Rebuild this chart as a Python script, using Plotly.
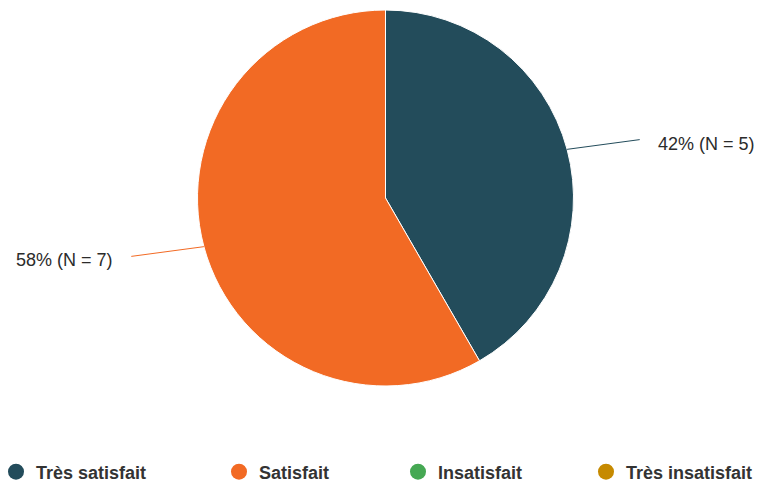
import math
import plotly.graph_objects as go

# ---- data ----
categories = ["Très satisfait", "Satisfait", "Insatisfait", "Très insatisfait"]
counts = [5, 7, 0, 0]
colors = ["#234C5B", "#F26A24", "#45A853", "#C68A00"]

# page body has an 8px margin; figure sized to fill the rest of the 763x484 window
OFF = 8
W, H = 763 - OFF, 484 - OFF
CX, CY, R = 385.5 - OFF, 198 - OFF, 188  # pie centre / radius in figure pixels
total = sum(counts)

fig = go.Figure()
fig.add_trace(go.Pie(
    labels=categories, values=counts, sort=False, direction="clockwise",
    rotation=0, textinfo="none", showlegend=False,
    marker=dict(colors=colors, line=dict(color="white", width=1)),
    domain=dict(x=[(CX - R) / W, (CX + R) / W],
                y=[max(0, (H - (CY + R)) / H), min(1, (H - (CY - R)) / H)]),
    hovertemplate="%{label}: %{value}<extra></extra>",
))

# outside labels with leader lines computed from slice mid-angles
shapes, annotations = [], []
cum = 0
for cat, v, c in zip(categories, counts, colors):
    if v > 0:
        mid = (cum + v / 2) / total * 2 * math.pi
        dx, dy = math.sin(mid), -math.cos(mid)
        x0, y0 = CX + dx * R, CY + dy * R
        x1, y1 = CX + dx * R * 1.40, CY + dy * R * 1.20
        shapes.append(dict(type="line", xref="paper", yref="paper",
                           x0=x0 / W, y0=(H - y0) / H, x1=x1 / W, y1=(H - y1) / H,
                           line=dict(color=c, width=1)))
        right = dx >= 0
        annotations.append(dict(
            xref="paper", yref="paper", showarrow=False,
            x=(x1 + (16 if right else -16)) / W, y=(H - (y1 + 4)) / H,
            xanchor="left" if right else "right", yanchor="middle",
            text=f"{round(100 * v / total)}% (N = {v})",
            font=dict(family="Liberation Sans, Arial", size=18, color="#2b2b2b"),
        ))
    cum += v

# legend entries (circle markers), one legend per entry; marker centres in window px
legend_marker_x = [15, 238, 417, 605]
layout_legends = {}
for i, (cat, c) in enumerate(zip(categories, colors)):
    lname = "legend" if i == 0 else f"legend{i + 1}"
    fig.add_trace(go.Scatter(
        x=[None], y=[None], mode="markers", name=cat, legend=lname,
        marker=dict(color=c, size=16, symbol="circle"), showlegend=True,
        hoverinfo="skip",
    ))
    layout_legends[lname] = dict(
        x=(legend_marker_x[i] - OFF - 19) / W, y=(H - (472 - OFF)) / H,
        xanchor="left", yanchor="middle",
        orientation="h", bgcolor="rgba(0,0,0,0)",
        font=dict(family="Liberation Sans, Arial", size=18, color="#333333", weight="bold"),
    )

fig.update_layout(
    width=W, height=H,
    margin=dict(l=0, r=0, t=0, b=0, autoexpand=False),
    paper_bgcolor="white", plot_bgcolor="white",
    xaxis=dict(visible=False), yaxis=dict(visible=False),
    shapes=shapes, annotations=annotations,
    **layout_legends,
)

fig.write_html("out.html")
